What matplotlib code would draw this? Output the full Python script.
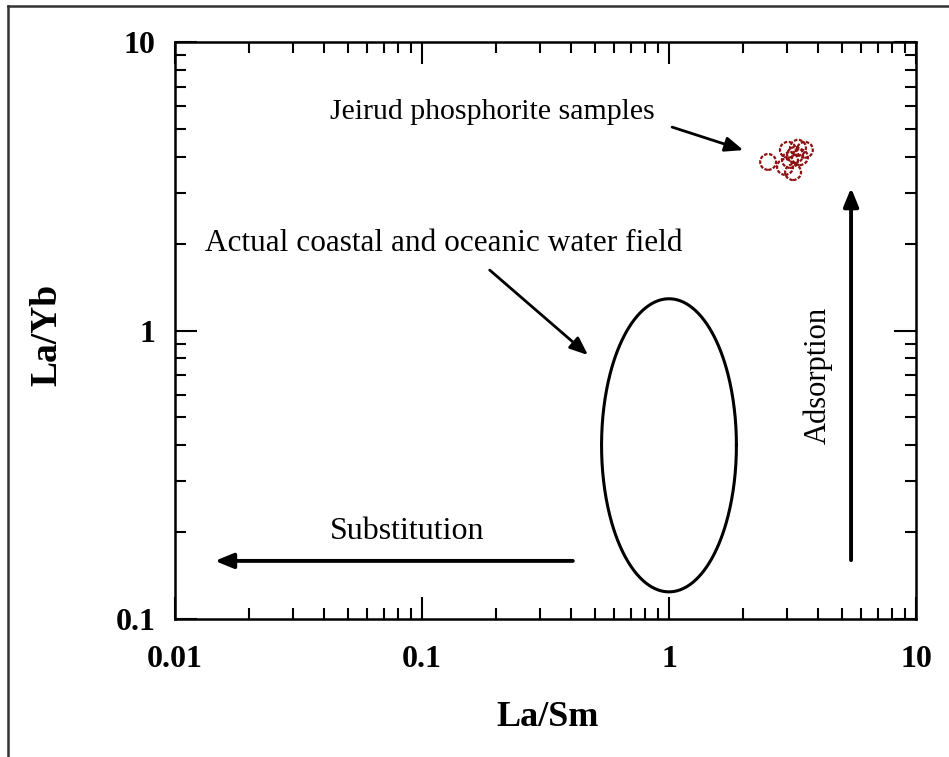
import numpy as np
import matplotlib.pyplot as plt
from matplotlib.lines import Line2D
from matplotlib.ticker import LogLocator, NullFormatter, FixedLocator

plt.rcParams['font.family'] = ['Liberation Serif', 'DejaVu Serif']

# echantillons de Jeirud (La/Sm, La/Yb)
la_sm = np.array([2.52, 2.95, 3.24, 3.33, 3.09, 3.39, 3.18, 3.55, 3.03])
la_yb = np.array([3.84, 3.69, 4.06, 4.30, 3.90, 3.99, 3.54, 4.23, 4.23])

# champ eau cotiere / oceanique (ellipse en decades log)
ell_cx, ell_cy = 1.0, 0.40
ell_rx, ell_ry = 0.273, 0.508   # demi-axes en decades

x_ticks = [0.01, 0.1, 1, 10]
x_tick_labels = ['0.01', '0.1', '1', '10']
y_ticks = [0.1, 1, 10]
y_tick_labels = ['0.1', '1', '10']

fig = plt.figure(figsize=(9.49, 7.57), dpi=100)
ax = fig.add_axes([0.1844, 0.1823, 0.7808, 0.7622])
ax.set_xscale('log')
ax.set_yscale('log')
ax.set_xlim(0.01, 10)
ax.set_ylim(0.1, 10)

# ellipse
t = np.linspace(0, 2*np.pi, 400)
ex = 10**(np.log10(ell_cx) + ell_rx*np.cos(t))
ey = 10**(np.log10(ell_cy) + ell_ry*np.sin(t))
ax.plot(ex, ey, color='black', lw=2.2)

# points
ax.scatter(la_sm, la_yb, s=130, facecolors='none', edgecolors='#8e1010',
           linewidths=1.6, linestyles=(0, (1.6, 0.7)), zorder=3)

arr = dict(arrowstyle='-|>,head_length=1.1,head_width=0.45', lw=2.8,
           color='black', shrinkA=0, shrinkB=0)
ax.annotate('', xy=(0.0145, 0.159), xytext=(0.408, 0.159), arrowprops=arr)
ax.annotate('', xy=(5.46, 3.12), xytext=(5.46, 0.16), arrowprops=arr)
arr2 = dict(arrowstyle='-|>,head_length=1.1,head_width=0.45', lw=2.0,
            color='black', shrinkA=0, shrinkB=0)
ax.annotate('', xy=(2.0, 4.22), xytext=(1.03, 5.07), arrowprops=arr2)
ax.annotate('', xy=(0.47, 0.822), xytext=(0.188, 1.62), arrowprops=arr2)

ax.text(0.0425, 5.72, 'Jeirud phosphorite samples', fontsize=21.5, ha='left', va='center')
ax.text(0.0132, 2.01, 'Actual coastal and oceanic water field', fontsize=22.5,
        ha='left', va='center')
ax.text(0.0869, 0.2018, 'Substitution', fontsize=23, ha='center', va='center')
ax.text(4.01, 0.70, 'Adsorption', fontsize=22, ha='center', va='center', rotation=90)

ax.xaxis.set_major_locator(FixedLocator(x_ticks))
ax.set_xticklabels(x_tick_labels)
ax.yaxis.set_major_locator(FixedLocator(y_ticks))
ax.set_yticklabels(y_tick_labels)
ax.xaxis.set_minor_locator(LogLocator(base=10, subs=np.arange(2, 10)))
ax.yaxis.set_minor_locator(LogLocator(base=10, subs=np.arange(2, 10)))
ax.xaxis.set_minor_formatter(NullFormatter())
ax.yaxis.set_minor_formatter(NullFormatter())
ax.tick_params(which='both', direction='in', top=True, right=True, width=1.5)
ax.tick_params(which='major', length=16)
ax.tick_params(which='minor', length=8)
ax.tick_params(axis='x', which='major', pad=19, labelsize=23)
ax.tick_params(axis='y', which='major', pad=14, labelsize=23)
for lab in ax.get_xticklabels() + ax.get_yticklabels():
    lab.set_fontweight('bold')
for s in ax.spines.values():
    s.set_linewidth(1.8)

# titres des axes
fig.text(548/949, 1 - 718/757, 'La/Sm', fontsize=26, fontweight='bold',
         ha='center', va='center')
fig.text(47/949, 1 - 335/757, 'La/Yb', fontsize=27, fontweight='bold',
         ha='center', va='center', rotation=90)

# cadre exterieur
fig.add_artist(Line2D([0.0084, 0.0084], [0.0, 0.992], color='#333333', lw=1.8))
fig.add_artist(Line2D([0.0084, 1.0], [0.992, 0.992], color='#333333', lw=1.8))

plt.savefig('out.png', dpi=100)
